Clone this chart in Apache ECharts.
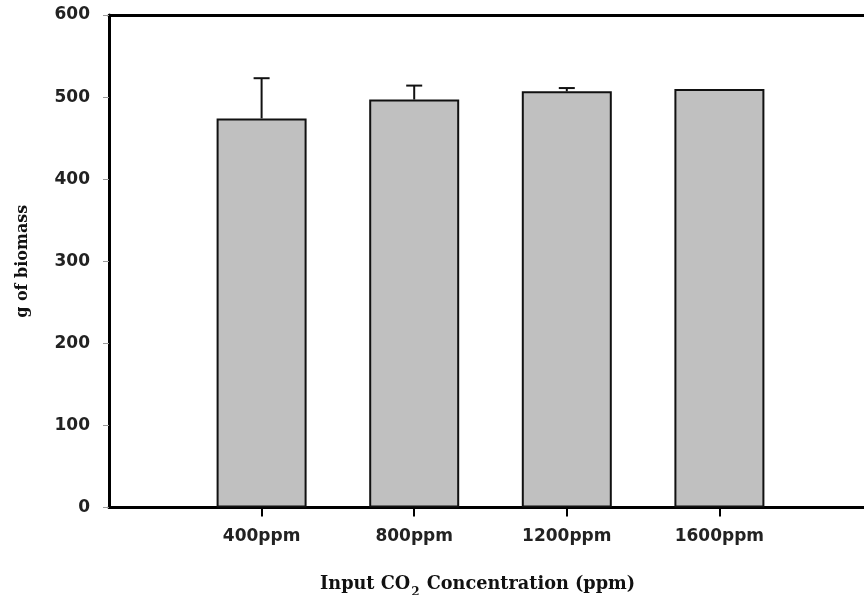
<!DOCTYPE html>
<html>
<head>
<meta charset="utf-8">
<script src="https://cdn.jsdelivr.net/npm/echarts@6/dist/echarts.min.js"></script>
<style>
  html, body { margin: 0; padding: 0; background: #fff; }
  #grafica { width: 864px; height: 595px; }
</style>
</head>
<body>
<div id="grafica"></div>
<script>
// datos
const categorias = ["400ppm", "800ppm", "1200ppm", "1600ppm"];
const biomasa = [474, 497, 507, 510];
const errores = [49, 17, 4, 0];
const ticksY = [0, 100, 200, 300, 400, 500, 600];

// eje con un hueco vacio a cada lado
const ejeX = ["", ...categorias, ""];
const barras = ["-", ...biomasa, "-"];
const barrasError = biomasa.map((v, i) => [i + 1, v, v + errores[i]]);

const tickFont = { fontFamily: "DejaVu Sans", fontWeight: "bold", fontSize: 17, color: "#222" };
const serif = { fontFamily: "DejaVu Serif", fontWeight: "bold", color: "#111" };

let myChart = echarts.init(document.getElementById("grafica"));
myChart.setOption({
  animation: false,
  backgroundColor: "#fff",
  title: {
    text: "{t|Input CO}{s|2}{t| Concentration (ppm)}",
    left: 315,
    top: 566,
    textStyle: {
      rich: {
        t: { ...serif, fontSize: 17.7, verticalAlign: "bottom", lineHeight: 22 },
        s: { ...serif, fontSize: 12, verticalAlign: "bottom", lineHeight: 14, padding: [0, 1, -6, 1] }
      }
    }
  },
  grid: { left: 109, width: 763, top: 15, bottom: 87.5, containLabel: false, outerBoundsMode: "none" },
  xAxis: [
    {
      type: "category",
      data: ejeX,
      boundaryGap: false,
      axisLine: { lineStyle: { color: "#000", width: 3 } },
      axisTick: {
        show: true,
        length: 9,
        interval: (i) => i > 0 && i < ejeX.length - 1,
        lineStyle: { color: "#000", width: 2 }
      },
      axisLabel: { ...tickFont, margin: 21, interval: 0 },
      splitLine: { show: false }
    },
    {
      type: "category",
      data: ejeX,
      position: "top",
      boundaryGap: false,
      axisLine: { lineStyle: { color: "#000", width: 3 } },
      axisTick: { show: false },
      axisLabel: { show: false }
    }
  ],
  yAxis: {
    type: "value",
    min: ticksY[0],
    max: ticksY[ticksY.length - 1],
    interval: 100,
    name: "g of biomass",
    nameLocation: "middle",
    nameGap: 78,
    nameTextStyle: { ...serif, fontSize: 16 },
    axisLine: { show: true, lineStyle: { color: "#000", width: 3 } },
    axisTick: { show: true, length: 6, lineStyle: { color: "#999", width: 1 } },
    axisLabel: { ...tickFont, margin: 19 },
    splitLine: { show: false }
  },
  series: [
    {
      type: "bar",
      data: barras,
      barWidth: 90,
      itemStyle: { color: "#c0c0c0", borderColor: "#111", borderWidth: 2 },
      z: 2
    },
    {
      type: "custom",
      data: barrasError,
      z: 3,
      renderItem: (params, api) => {
        const base = api.coord([api.value(0), api.value(1)]);
        const top = api.coord([api.value(0), api.value(2)]);
        if (api.value(2) <= api.value(1)) return;
        const half = 8;
        const st = { stroke: "#111", lineWidth: 2 };
        return {
          type: "group",
          children: [
            { type: "line", shape: { x1: base[0], y1: base[1], x2: top[0], y2: top[1] }, style: st },
            { type: "line", shape: { x1: top[0] - half, y1: top[1], x2: top[0] + half, y2: top[1] }, style: st }
          ]
        };
      }
    }
  ]
});
</script>
</body>
</html>
